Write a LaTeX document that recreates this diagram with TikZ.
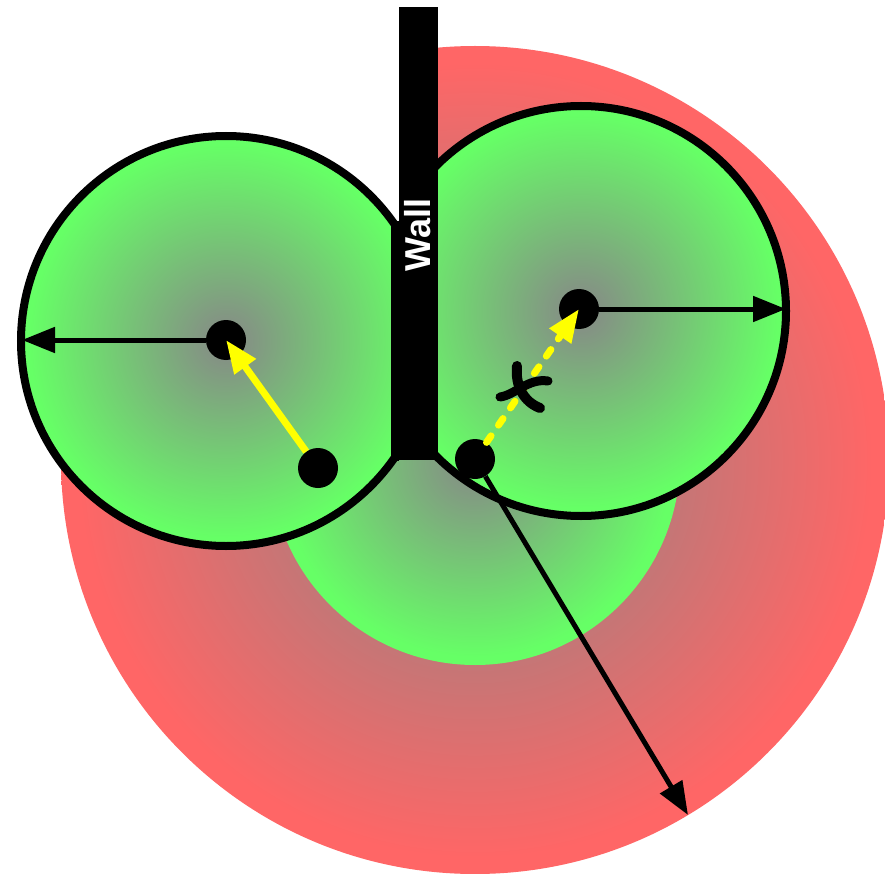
\documentclass[tikz,border=0pt]{standalone}
\usepackage{fontspec}
\setmainfont{Liberation Sans}
\usetikzlibrary{arrows.meta}
\definecolor{gedge}{RGB}{102,255,102}
\definecolor{redge}{RGB}{255,102,102}
\definecolor{cgray}{RGB}{135,135,135}
\definecolor{yel}{RGB}{255,255,0}
\pgfdeclareradialshading{gball}{\pgfpoint{0bp}{0bp}}{color(0bp)=(cgray); color(24bp)=(gedge); color(50bp)=(gedge)}
\pgfdeclareradialshading{rball}{\pgfpoint{0bp}{0bp}}{color(0bp)=(cgray); color(24bp)=(redge); color(50bp)=(redge)}
\begin{document}
\begin{tikzpicture}[x=1pt,y=-1pt,
  outline/.style={line width=8pt},
  dot/.style={circle,fill=black,inner sep=0pt,minimum size=40pt},
  blackarrow/.style={line width=5pt,-{Triangle[length=33pt,width=25pt]}},
  yarrow/.style={draw=yel,line width=7pt,-{Triangle[length=33pt,width=25pt,fill=yel]}},
  ydash/.style={draw=yel,line width=7pt,line cap=round,dash pattern=on 8pt off 13pt,-{Triangle[length=33pt,width=25pt,fill=yel]}},
  crossmark/.style={line width=10pt,line cap=round}]
\useasboundingbox (0,0) rectangle (885,874);
% zones reachable from the bottom of the wall (hidden behind the wall's left side)
\begin{scope}
  \clip (399,0) -- (885,0) -- (885,874) -- (0,874) -- (0,460) -- (399,460) -- cycle;
  \shade[shading=rball] (475,460) circle [radius=414];
  \shade[shading=gball] (475,460) circle [radius=205];
\end{scope}
% left zone
\begin{scope}
  \clip (0,0) rectangle (399,874);
  \shade[shading=gball] (226,341) circle [radius=205];
  \draw[outline] (226,341) circle [radius=205];
\end{scope}
\draw[line width=8pt] (395,221) -- (395,461);
% right zone
\begin{scope}
  \clip (430,0) rectangle (885,874);
  \shade[shading=gball] (581,311) circle [radius=205];
  \draw[outline] (581,311) circle [radius=205];
\end{scope}
\draw[line width=8pt] (434,163) -- (434,459);
% wall
\fill[black] (399,7) rectangle (438,460);
\node[text=white,font=\bfseries\fontsize{36}{36}\selectfont,rotate=90,inner sep=0pt] (walllabel) at (418,235) {Wall};
% points
\coordinate (le) at (22,340);
\coordinate (re) at (786,309);
\coordinate (fe) at (688,815);
\node[dot] (lcdot) at (226,340) {};
\node[dot] (lddot) at (318,468) {};
\node[dot] (rcdot) at (579,309) {};
\node[dot] (rddot) at (475,459) {};
% arrows
\draw[blackarrow] (lcdot) -- (le);
\draw[blackarrow] (rcdot) -- (re);
\draw[blackarrow] (rddot) -- (fe);
\draw[yarrow] (lddot) -- (lcdot.center);
\draw[ydash] (rddot) -- (rcdot.center);
% cross mark
\draw[crossmark] (517,366) .. controls (515,386) and (524,402) .. (540,408);
\draw[crossmark,line width=9pt] (500,397) .. controls (515,395) and (528,378) .. (548,381);
\end{tikzpicture}
\end{document}
